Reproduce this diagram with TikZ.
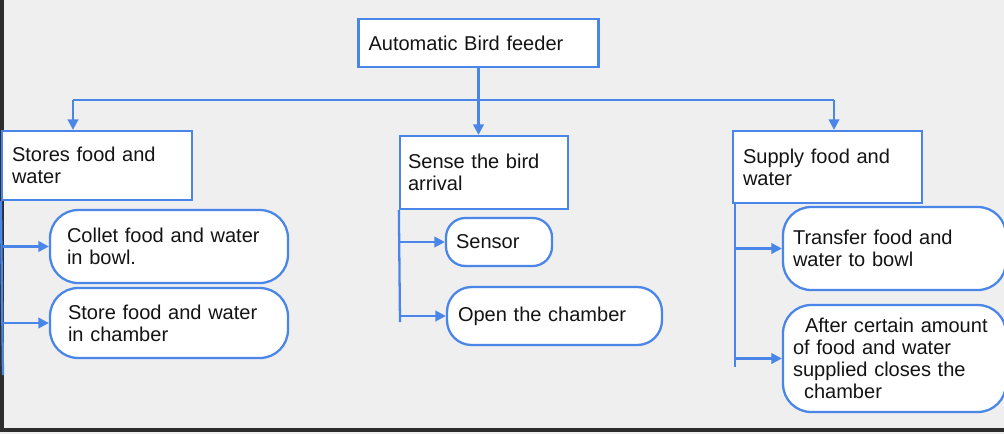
\documentclass[tikz,border=0pt]{standalone}
\usepackage{fontspec}
\setmainfont{Liberation Sans}
\usetikzlibrary{arrows.meta, positioning}
\definecolor{linkblue}{RGB}{74, 134, 232}
\definecolor{pagegrey}{RGB}{239, 239, 239}
\definecolor{framegrey}{RGB}{45, 45, 45}
\definecolor{inkcolor}{RGB}{20, 20, 20}

\begin{document}
\begin{tikzpicture}[x=0.02cm, y=-0.02cm,
    box/.style={draw=linkblue, line width=1.3pt, fill=white, align=left, text=inkcolor, inner xsep=0.2cm, inner ysep=0pt, font=\fontsize{11.4}{12.6}\selectfont},
    pill/.style={box, rounded corners=16pt},
    link/.style={draw=linkblue, line width=1.3pt},
    tip/.style={link, -{Triangle[length=6pt, width=6pt]}}]
    % Page
    \useasboundingbox (0,0) rectangle (1004,434);
    \fill[pagegrey] (0,0) rectangle (1004,434);
    \draw[framegrey, line width=1.8pt] (2,0) -- (2,430) -- (1004,430);

    % Root
    \node[box, text width=4.40cm, minimum height=0.96cm] (feeder) at (478.5,43) {Automatic Bird feeder};

    % Main functions
    \node[box, text width=3.40cm, minimum height=1.38cm] (stores) at (97,165.5) {Stores food and\\water};
    \node[box, text width=3.04cm, inner xsep=0.16cm, minimum height=1.46cm] (sense) at (484,172.5) {Sense the bird\\arrival};
    \node[box, text width=3.38cm, minimum height=1.44cm] (supply) at (827.5,167) {Supply food and\\water};

    % Left branch
    \node[pill, text width=4.08cm, inner xsep=0.34cm, minimum height=1.46cm] (collet) at (169,246.5) {Collet food and water\\in bowl.};
    \node[pill, text width=4.04cm, inner xsep=0.36cm, minimum height=1.40cm] (chamber) at (169,323) {Store food and water\\in chamber};

    % Middle branch
    \node[pill, rounded corners=11pt, text width=1.72cm, minimum height=0.96cm] (sensor) at (499,242) {Sensor};
    \node[pill, rounded corners=14pt, text width=3.86cm, inner xsep=0.22cm, minimum height=1.16cm] (open) at (554.5,316) {Open the chamber};

    % Right branch
    \node[pill, text width=4.06cm, minimum height=1.66cm] (transfer) at (894.5,248.5) {Transfer food and\\water to bowl};
    \node[pill, text width=4.06cm, minimum height=2.14cm, font=\fontsize{11.4}{12.4}\selectfont] (closes) at (894.5,358.5) {\hspace*{0.24cm}After certain amount\\of food and water\\supplied closes the\\\hspace*{0.22cm}chamber};

    % Root to main functions
    \coordinate (splitL) at (73,100);
    \coordinate (splitM) at (feeder.south |- splitL);
    \coordinate (splitR) at (834,100);
    \draw[link] (feeder.south) -- (splitM);
    \draw[link] (splitL) -- (splitR);
    \draw[tip] (splitL) -- (splitL |- stores.north);
    \draw[tip] (splitM) -- (splitM |- sense.north);
    \draw[tip] (splitR) -- (splitR |- supply.north);

    % Left rail
    \coordinate (railL) at (3,375);
    \draw[link] (stores.south west) -- (railL);
    \draw[tip] (railL |- collet.west) -- (collet.west);
    \draw[tip] (railL |- chamber.west) -- (chamber.west);

    % Middle rail
    \coordinate (railM) at (400,322);
    \draw[link] (sense.south west) -- (railM);
    \draw[tip] (railM |- sensor.west) -- (sensor.west);
    \draw[tip] (railM |- open.west) -- (open.west);

    % Right rail
    \coordinate (railR) at (735,367);
    \draw[link] (railR |- supply.south) -- (railR);
    \draw[tip] (railR |- transfer.west) -- (transfer.west);
    \draw[tip] (railR |- closes.west) -- (closes.west);
\end{tikzpicture}
\end{document}
